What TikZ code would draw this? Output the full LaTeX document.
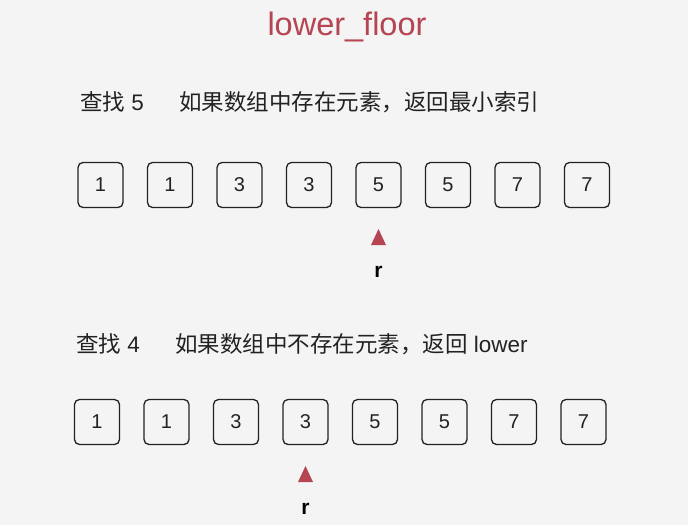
\documentclass[tikz,border=0pt]{standalone}
\usepackage{fontspec}
\setmainfont{Liberation Sans}
\newfontfamily\cjk{Noto Sans CJK SC}
\usetikzlibrary{positioning}
\definecolor{bggray}{RGB}{244,244,244}
\definecolor{floorred}{RGB}{181,69,82}
\definecolor{inkdark}{RGB}{34,34,34}

\begin{document}
\begin{tikzpicture}[
    x=1pt, y=-1pt,
    cell/.style={rectangle, draw=inkdark, line width=1.3pt, rounded corners=5pt, minimum size=45pt, inner sep=0pt, font=\fontsize{20}{20}\selectfont, text=inkdark},
    caption/.style={anchor=west, inner sep=0pt, font=\fontsize{22.5}{22.5}\selectfont, text=inkdark},
    ptr/.style={inner sep=0pt, font=\bfseries\fontsize{21}{21}\selectfont, text=black},
    marker/.style={fill=floorred}
]
\fill[bggray] (0,0) rectangle (688,525);
\useasboundingbox (0,0) rectangle (688,525);

\node[font=\fontsize{32.5}{32.5}\selectfont, text=floorred] (title) at (347,27) {lower\_floor};

% case 1: 5 is in the array
\node[caption] (find1) at (80,102) {{\cjk 查找} 5};
\node[caption] (desc1) at (179,102) {\cjk 如果数组中存在元素，返回最小索引};
\foreach \v [count=\i] in {1,1,3,3,5,5,7,7}
    \node[cell] (a\i) at ({100.5+69.5*(\i-1)},185) {\v};
\coordinate (tip1) at (a5.center |- 0,237);
\fill[marker] (tip1) ++(-7.5,8) -- ++(15,0) -- ++(-7.5,-16) -- cycle;
\node[ptr] (r1) at (a5.center |- 0,272) {r};

% case 2: 4 is not in the array
\node[caption] (find2) at (76,344) {{\cjk 查找} 4};
\node[caption] (desc2) at (175,344) {{\cjk 如果数组中不存在元素，返回} lower};
\foreach \v [count=\i] in {1,1,3,3,5,5,7,7}
    \node[cell] (b\i) at ({97+69.5*(\i-1)},422) {\v};
\coordinate (tip2) at (b4.center |- 0,474);
\fill[marker] (tip2) ++(-7.5,8) -- ++(15,0) -- ++(-7.5,-16) -- cycle;
\node[ptr] (r2) at (b4.center |- 0,509) {r};
\end{tikzpicture}
\end{document}
